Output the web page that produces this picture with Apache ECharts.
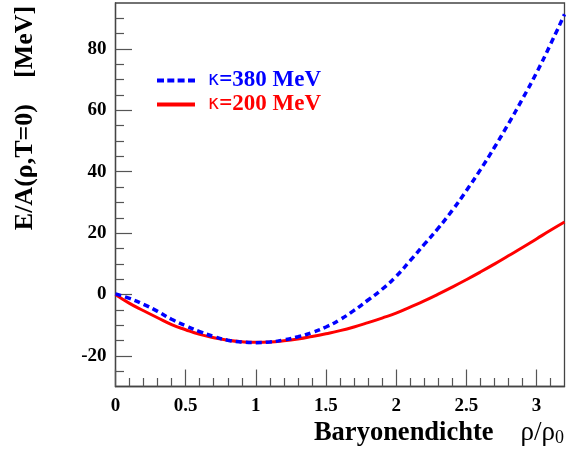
<!DOCTYPE html>
<html>
<head>
<meta charset="utf-8">
<script src="https://cdn.jsdelivr.net/npm/echarts@6/dist/echarts.min.js"></script>
<style>
  html, body { margin: 0; padding: 0; background: #fff; }
  #chart { width: 566px; height: 465px; }
</style>
</head>
<body>
<div id="chart"></div>
<script>
// Baryon density rho/rho0 sampling points
const density = [0, 0.1, 0.2, 0.3, 0.4, 0.5, 0.6, 0.7, 0.8, 0.9, 1.0,
  1.1, 1.2, 1.3, 1.4, 1.5, 1.6, 1.7, 1.8, 1.9, 2.0,
  2.1, 2.2, 2.3, 2.4, 2.5, 2.6, 2.7, 2.8, 2.9, 3.0, 3.1, 3.2];

// E/A(rho, T=0) in MeV, stiff EOS (kappa = 380 MeV)
const energyK380 = [0.2, -1.3, -3.2, -5.5, -8.1, -10.2, -12.1, -13.7, -14.9, -15.5, -15.7,
  -15.5, -14.8, -13.8, -12.4, -10.6, -8.2, -5.2, -1.8, 1.7, 5.9,
  11.0, 16.3, 21.6, 27.4, 33.8, 40.6, 47.9, 55.6, 63.7, 72.2, 81.5, 91.3];

// E/A(rho, T=0) in MeV, soft EOS (kappa = 200 MeV)
const energyK200 = [0, -2.9, -5.3, -7.6, -9.8, -11.5, -13.0, -14.1, -14.9, -15.4, -15.6,
  -15.5, -15.1, -14.5, -13.7, -12.8, -11.8, -10.6, -9.2, -7.7, -6.1,
  -4.1, -2.1, 0.1, 2.4, 4.8, 7.3, 9.9, 12.6, 15.3, 18.1, 20.9, 23.6];

// Axis tick positions
const xMajorTicks = [0, 0.5, 1, 1.5, 2, 2.5, 3];
const xMinorTicks = [0.1, 0.2, 0.3, 0.4, 0.6, 0.7, 0.8, 0.9, 1.1, 1.2, 1.3, 1.4,
  1.6, 1.7, 1.8, 1.9, 2.1, 2.2, 2.3, 2.4, 2.6, 2.7, 2.8, 2.9, 3.1];
const yMajorTicks = [-20, 0, 20, 40, 60, 80];
const yMinorTicks = [-25, -15, -10, -5, 5, 10, 15, 25, 30, 35, 45, 50, 55,
  65, 70, 75, 85, 90];

const seriesNames = ['κ=380 MeV', 'κ=200 MeV'];
const seriesColors = ['#0000ff', '#ff0000'];
// Legend keys: a dashed bar for the stiff EOS, a solid bar for the soft one
const legendIcons = [
  'path://M0,0h7v4h-7z M10.3,0h7v4h-7z M20.6,0h7v4h-7z M31,0h7v4h-7z',
  'path://M0,0h38v4h-38z'
];

const serif = 'Liberation Serif';
const tickColor = '#555';

const chart = echarts.init(document.getElementById('chart'), null, { renderer: 'canvas' });

function pairs(xs, ys) { return xs.map((x, i) => [x, ys[i]]); }

function legendItem(i) {
  return {
    name: seriesNames[i],
    icon: legendIcons[i],
    textStyle: {
      rich: {
        k: { fontFamily: 'DejaVu Sans', fontSize: 19, color: seriesColors[i], padding: [0, 0, 0, 8] },
        t: { fontFamily: serif, fontWeight: 'bold', fontSize: 23, color: seriesColors[i] }
      }
    }
  };
}

const xCommon = { type: 'value', min: 0, max: 3.2, splitLine: { show: false } };
const yCommon = { type: 'value', min: -30, max: 95, splitLine: { show: false } };

chart.setOption({
  animation: false,
  backgroundColor: '#fff',
  grid: {
    left: 115.5, right: 1.5, top: 3, bottom: 78.5,
    show: true, borderColor: '#444', borderWidth: 1.3, backgroundColor: 'transparent'
  },
  legend: {
    left: 157, top: 69, orient: 'vertical', padding: 0,
    itemWidth: 38, itemHeight: 4, itemGap: 1,
    data: [legendItem(0), legendItem(1)],
    formatter: name => '{k|κ}{t|' + name.slice(1) + '}'
  },
  xAxis: [
    Object.assign({}, xCommon, {
      axisLine: { show: true, onZero: false, lineStyle: { color: '#444', width: 1.3 } },
      axisTick: { show: true, inside: true, length: 17, customValues: xMajorTicks,
        lineStyle: { color: tickColor, width: 1.2 } },
      axisLabel: { show: true, customValues: xMajorTicks, margin: 10,
        fontFamily: serif, fontWeight: 'bold', fontSize: 19, color: '#000' }
    }),
    Object.assign({}, xCommon, {
      position: 'bottom',
      axisLine: { show: false, onZero: false },
      axisTick: { show: true, inside: true, length: 8.5, customValues: xMinorTicks,
        lineStyle: { color: tickColor, width: 1.2 } },
      axisLabel: { show: false }
    })
  ],
  yAxis: [
    Object.assign({}, yCommon, {
      axisLine: { show: true, onZero: false, lineStyle: { color: '#444', width: 1.3 } },
      axisTick: { show: true, inside: true, length: 16.5, customValues: yMajorTicks,
        lineStyle: { color: tickColor, width: 1.2 } },
      axisLabel: { show: true, customValues: yMajorTicks, margin: 9,
        fontFamily: serif, fontWeight: 'bold', fontSize: 19, color: '#000' }
    }),
    Object.assign({}, yCommon, {
      position: 'left',
      axisLine: { show: false, onZero: false },
      axisTick: { show: true, inside: true, length: 8.5, customValues: yMinorTicks,
        lineStyle: { color: tickColor, width: 1.2 } },
      axisLabel: { show: false }
    })
  ],
  series: [
    {
      name: seriesNames[0], type: 'line', data: pairs(density, energyK380),
      smooth: true, showSymbol: false, symbol: 'none', z: 3,
      lineStyle: { color: seriesColors[0], width: 3.5, type: [6, 4] },
      itemStyle: { color: seriesColors[0] }
    },
    {
      name: seriesNames[1], type: 'line', data: pairs(density, energyK200),
      smooth: true, showSymbol: false, symbol: 'none', z: 2,
      lineStyle: { color: seriesColors[1], width: 3 },
      itemStyle: { color: seriesColors[1] }
    }
  ],
  graphic: [
    {
      type: 'text', x: 25, y: 118, rotation: Math.PI / 2,
      style: {
        text: 'E/A(ρ,T=0)    [MeV]',
        fontFamily: serif, fontWeight: 'bold', fontSize: 26, fill: '#000',
        align: 'center', verticalAlign: 'middle'
      }
    },
    {
      type: 'text', x: 564, y: 433,
      style: {
        text: '{b|Baryonendichte}{r|    ρ/ρ}{s|0}',
        align: 'right', verticalAlign: 'middle',
        rich: {
          b: { fontFamily: serif, fontWeight: 'bold', fontSize: 26.5, fill: '#000' },
          r: { fontFamily: serif, fontSize: 27, fill: '#000' },
          s: { fontFamily: serif, fontSize: 18, fill: '#000', padding: [11, 0, 0, 0] }
        }
      }
    }
  ]
});
</script>
</body>
</html>
